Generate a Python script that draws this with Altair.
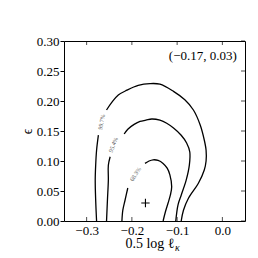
import altair as alt
import pandas as pd

# ---- data ----
x_ticks = [-0.3, -0.2, -0.1, 0.0]
y_ticks = [0.0, 0.05, 0.10, 0.15, 0.20, 0.25, 0.30]

# 99.7% contour (two segments, gap where the label sits)
c997a_x = [-0.278, -0.280, -0.281, -0.280, -0.278, -0.274]
c997a_y = [0.0, 0.035, 0.068, 0.093, 0.118, 0.143]
c997b_x = [-0.256, -0.244, -0.230, -0.211, -0.186, -0.160, -0.138, -0.108, -0.083,
           -0.064, -0.049, -0.040, -0.036, -0.036, -0.040, -0.053, -0.075, -0.086, -0.091]
c997b_y = [0.185, 0.198, 0.210, 0.218, 0.226, 0.229, 0.228, 0.216, 0.202,
           0.185, 0.160, 0.135, 0.118, 0.100, 0.085, 0.063, 0.038, 0.018, 0.0]

# 95.4% contour
c954a_x = [-0.256, -0.254, -0.252, -0.252, -0.248]
c954a_y = [0.0, 0.035, 0.068, 0.093, 0.107]
c954b_x = [-0.217, -0.209, -0.195, -0.182, -0.169, -0.156, -0.138, -0.123, -0.108,
           -0.091, -0.079, -0.072, -0.073, -0.080, -0.091, -0.098, -0.103]
c954b_y = [0.145, 0.153, 0.161, 0.166, 0.168, 0.170, 0.168, 0.163, 0.155,
           0.143, 0.130, 0.115, 0.093, 0.068, 0.043, 0.027, 0.0]

# 68.3% contour
c683a_x = [-0.222, -0.220, -0.215, -0.209]
c683a_y = [0.0, 0.018, 0.035, 0.055]
c683b_x = [-0.171, -0.162, -0.153, -0.142, -0.131, -0.122, -0.116, -0.112, -0.115,
           -0.120, -0.126, -0.131]
c683b_y = [0.096, 0.100, 0.102, 0.101, 0.096, 0.088, 0.077, 0.057, 0.043,
           0.030, 0.015, 0.0]

label_text = ["99.7%", "95.4%", "68.3%"]
label_x = [-0.267, -0.241, -0.192]
label_y = [0.165, 0.127, 0.078]
label_angle = [282, 292, 302]

best_x = [-0.17]
best_y = [0.03]
annot = "(\u22120.17, 0.03)"

# ---- build tables ----
segs = [("a997", c997a_x, c997a_y), ("b997", c997b_x, c997b_y),
        ("a954", c954a_x, c954a_y), ("b954", c954b_x, c954b_y),
        ("a683", c683a_x, c683a_y), ("b683", c683b_x, c683b_y)]
rows = []
for name, xs_, ys_ in segs:
    for i, (a, b) in enumerate(zip(xs_, ys_)):
        rows.append({"seg": name, "i": i, "x": a, "y": b})
df = pd.DataFrame(rows)
lab = pd.DataFrame({"t": label_text, "x": label_x, "y": label_y, "a": label_angle})
best = pd.DataFrame({"x": best_x, "y": best_y})
xt = pd.DataFrame({"x": x_ticks})
yt = pd.DataFrame({"y": y_ticks})

W, H = 181, 180
FONT = "Liberation Serif"
xs = alt.Scale(domain=[-0.35, 0.05], nice=False, zero=False)
ys = alt.Scale(domain=[0.0, 0.30], nice=False, zero=False)

x_axis = alt.Axis(values=x_ticks, format=".1f", ticks=False, domain=False,
                  grid=False, labelFont=FONT, labelFontSize=13, labelColor="black",
                  labelPadding=3, title=None)
y_axis = alt.Axis(values=y_ticks, format=".2f", tickSize=4, tickColor="black",
                  domain=False, grid=False, labelFont=FONT, labelFontSize=13,
                  labelColor="black", labelPadding=1, title="\u03f5",
                  titleFont=FONT, titleFontSize=14, titleFontWeight="normal",
                  titleColor="black", titleX=-37, titleY=H / 2, titleAlign="center",
                  titleBaseline="middle", titleAngle=270)

X = alt.X("x:Q", scale=xs, axis=x_axis)
Y = alt.Y("y:Q", scale=ys, axis=y_axis)

lines = alt.Chart(df).mark_line(color="black", strokeWidth=1.3, interpolate="catmull-rom").encode(
    x=X, y=Y, detail="seg:N", order="i:Q")

labels = alt.Chart(lab).mark_text(font=FONT, fontSize=6, color="#555555", baseline="middle",
                                  align="center").encode(
    x=X, y=Y, text="t:N", angle=alt.Angle("a:Q", scale=None))

plus = alt.Chart(best).mark_point(shape="M-1,0L1,0M0,-1L0,1", size=70, filled=False,
                                  color="black", strokeWidth=1.1, opacity=1).encode(x=X, y=Y)

ann = alt.Chart(pd.DataFrame({"t": [annot], "x": [0.032], "y": [0.2755]})).mark_text(
    font=FONT, fontSize=13, align="right", baseline="middle", color="black").encode(
    x=X, y=Y, text="t:N")

tick_b = alt.Chart(xt).mark_tick(orient="vertical", size=4, thickness=1, color="black").encode(
    x=X, y=alt.value(H - 2))
tick_t = alt.Chart(xt).mark_tick(orient="vertical", size=4, thickness=1, color="black").encode(
    x=X, y=alt.value(2))
tick_r = alt.Chart(yt).mark_tick(orient="horizontal", size=4, thickness=1, color="black").encode(
    y=Y, x=alt.value(W - 2))

title_main = alt.Chart(pd.DataFrame({"t": ["0.5 log \u2113"]})).mark_text(
    font=FONT, fontSize=14, align="right", baseline="middle", color="black").encode(
    x=alt.value(W / 2 + 20), y=alt.value(H + 23), text="t:N")
title_sub = alt.Chart(pd.DataFrame({"t": ["\u03ba"]})).mark_text(
    font=FONT, fontSize=10, fontStyle="italic", align="left", baseline="middle", color="black").encode(
    x=alt.value(W / 2 + 20.5), y=alt.value(H + 27), text="t:N")

chart = alt.layer(lines, labels, plus, ann, tick_b, tick_t, tick_r, title_main, title_sub).properties(
    width=W, height=H,
    padding={"left": 56, "top": 33, "right": 5, "bottom": 33},
    autosize="none",
).configure_view(stroke="black", strokeWidth=1)

chart.save("out.html", embed_options={"renderer": "svg", "actions": False})
